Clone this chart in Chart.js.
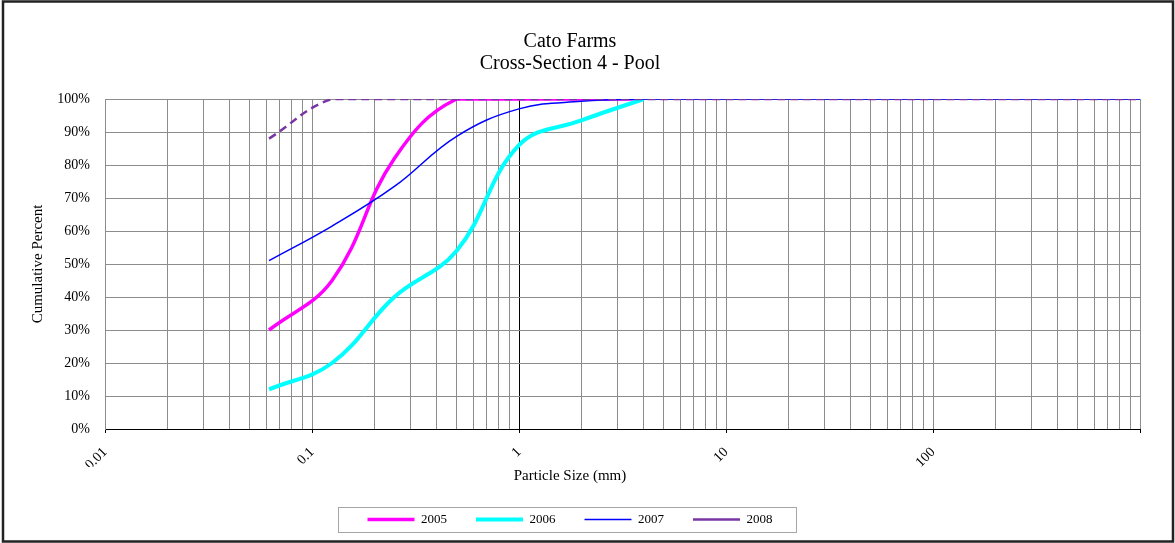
<!DOCTYPE html>
<html lang="en">
  <head>
    <meta charset="UTF-8" />
    <title>Cato Farms - Cross-Section 4 - Pool</title>
    <script src="https://cdn.jsdelivr.net/npm/chart.js"></script>
    <style>
      body {
        margin: 0;
        background: #ffffff;
      }
      .chart-box {
        position: relative;
        width: 1175px;
        height: 543px;
      }
    </style>
  </head>
  <body>
    <div class="chart-box">
      <canvas id="gradationChart"></canvas>
    </div>

    <script>
      // particle sizes (mm) of the sieve classes
      const sizes = [0.062, 0.125, 0.25, 0.5, 1, 2, 4, 8, 16, 32, 64, 128, 256, 512, 1024, 2048];

      // cumulative percent finer (null = no reading)
      const y2005 = [30, 45, 82, 100, 100, 100, 100, null, null, null, null, null, null, null, null, null];
      const y2006 = [12, 20, 40, 54, 86, 93.5, 100, null, null, null, null, null, null, null, null, null];
      const y2007 = [51, 61.5, 73.5, 88.7, 97, 99.3, 100, 100, 100, 100, 100, 100, 100, 100, 100, 100];
      const y2008 = [88, 100, 100, 100, 100, 100, 100, 100, 100, 100, 100, 100, 100, 100, 100, 100];

      const seriesNames = ["2005", "2006", "2007", "2008"];
      const decadeLabels = [0.01, 0.1, 1, 10, 100];

      const serif = "'Liberation Serif', 'Times New Roman', serif";
      const gridGrey = "#8c8c8c";

      const toPoints = (vals) =>
        sizes.map((s, i) => ({ x: s, y: vals[i] })).filter((p) => p.y !== null);

      const isDecade = (v) => Math.abs(Math.log10(v) - Math.round(Math.log10(v))) < 1e-9;

      // white page and the dark frame round the whole chart
      const frame = {
        id: "frame",
        beforeDraw(chart) {
          const c = chart.ctx;
          c.save();
          c.fillStyle = "#ffffff";
          c.fillRect(0, 0, chart.width, chart.height);
          c.restore();
        },
        afterDraw(chart) {
          const c = chart.ctx;
          c.save();
          c.strokeStyle = "#222222";
          c.lineWidth = 2.5;
          c.strokeRect(3, 1.5, chart.width - 5, chart.height - 3);
          // box round the legend
          const boxes = chart.legend.legendHitBoxes;
          if (boxes && boxes.length) {
            const left = Math.min(...boxes.map((b) => b.left)) - 30;
            const right = Math.max(...boxes.map((b) => b.left + b.width)) + 23;
            const cy = boxes[0].top + boxes[0].height / 2;
            c.strokeStyle = "#a6a6a6";
            c.lineWidth = 1;
            c.strokeRect(Math.round(left) + 0.5, Math.round(cy - 13) + 0.5, Math.round(right - left), 25);
          }
          c.restore();
        },
      };

      const ctx = document.getElementById("gradationChart").getContext("2d");
      const gradationChart = new Chart(ctx, {
        type: "line",
        data: {
          datasets: [
            {
              label: seriesNames[0],
              data: toPoints(y2005),
              borderColor: "#ff00ff",
              backgroundColor: "#ff00ff",
              borderWidth: 3.5,
              order: 3,
            },
            {
              label: seriesNames[1],
              data: toPoints(y2006),
              borderColor: "#00ffff",
              backgroundColor: "#00ffff",
              borderWidth: 4,
              order: 2,
            },
            {
              label: seriesNames[2],
              data: toPoints(y2007),
              borderColor: "#0000ff",
              backgroundColor: "#0000ff",
              borderWidth: 1.5,
              order: 1,
            },
            {
              label: seriesNames[3],
              data: toPoints(y2008),
              borderColor: "#7a35a5",
              backgroundColor: "#7a35a5",
              borderWidth: 2.5,
              borderDash: [8, 5],
              order: 0,
            },
          ],
        },
        options: {
          responsive: true,
          maintainAspectRatio: false,
          animation: false,
          layout: {
            padding: { left: 0, right: 35, top: 0, bottom: 7 },
          },
          elements: {
            point: { radius: 0, hoverRadius: 0 },
            line: { tension: 0.4, fill: false },
          },
          scales: {
            x: {
              type: "logarithmic",
              min: 0.01,
              max: 1000,
              afterBuildTicks(scale) {
                const ticks = [];
                for (let e = -2; e <= 2; e++) {
                  for (let m = 1; m <= 9; m++) {
                    ticks.push({ value: parseFloat((m * Math.pow(10, e)).toPrecision(6)) });
                  }
                }
                ticks.push({ value: 1000 });
                scale.ticks = ticks;
              },
              afterFit(scale) {
                scale.height = 38;
              },
              ticks: {
                autoSkip: false,
                minRotation: 45,
                maxRotation: 45,
                padding: 11,
                color: "#000000",
                font: { family: serif, size: 14 },
                callback(value) {
                  return decadeLabels.some((d) => Math.abs(d - value) < 1e-9) ? String(value) : "";
                },
              },
              grid: {
                color: (c) => (c.tick && c.tick.value === 1 ? "#000000" : gridGrey),
                lineWidth: 1,
                drawTicks: true,
                tickLength: 4,
                tickColor: (c) => (c.tick && isDecade(c.tick.value) ? "#000000" : "rgba(0,0,0,0)"),
              },
              border: { color: "#000000", width: 1 },
            },
            y: {
              min: 0,
              max: 100,
              afterFit(scale) {
                scale.width = 105;
              },
              ticks: {
                stepSize: 10,
                padding: 15,
                color: "#000000",
                font: { family: serif, size: 14 },
                callback: (v) => v + "%",
              },
              grid: {
                color: gridGrey,
                lineWidth: 1,
                drawTicks: false,
              },
              border: { color: gridGrey, width: 1 },
              title: {
                display: true,
                text: "Cumulative Percent",
                color: "#000000",
                font: { family: serif, size: 15 },
                padding: { top: 29, bottom: 0 },
              },
            },
          },
          plugins: {
            title: {
              display: true,
              text: ["Cato Farms", "Cross-Section 4 - Pool"],
              color: "#000000",
              font: { family: serif, size: 20, weight: "normal", lineHeight: 1.1 },
              padding: { top: 31, bottom: 24 },
            },
            subtitle: {
              display: true,
              position: "bottom",
              weight: 500,
              text: "Particle Size (mm)",
              color: "#000000",
              font: { family: serif, size: 15, weight: "normal", lineHeight: 1 },
              padding: { top: 2, bottom: 0 },
            },
            legend: {
              position: "bottom",
              labels: {
                usePointStyle: true,
                pointStyle: "line",
                pointStyleWidth: 47,
                padding: 29,
                color: "#000000",
                font: { family: serif, size: 13 },
                sort: (a, b) => a.datasetIndex - b.datasetIndex,
              },
            },
            tooltip: { enabled: false },
          },
        },
        plugins: [frame],
      });
    </script>
  </body>
</html>
